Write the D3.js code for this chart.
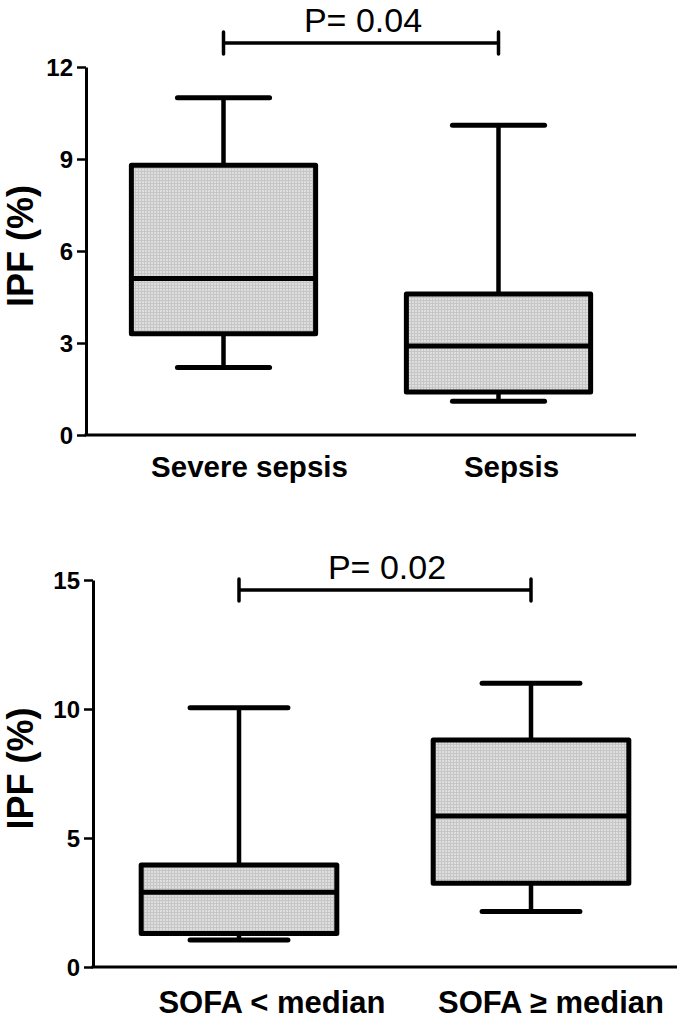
<!DOCTYPE html>
<html>
<head>
<meta charset="utf-8">
<script src="https://cdn.jsdelivr.net/npm/d3@7/dist/d3.min.js"></script>
<style>
  body { margin: 0; background: #fff; }
  svg { display: block; }
  text { font-family: "Liberation Sans", Arial, sans-serif; }
</style>
</head>
<body>
<div id="graph"></div>
<script>
// top panel: severity groups
var topGroups = ["Severe sepsis", "Sepsis"],
    topMin = [2.2, 1.1],
    topQ1 = [3.3, 1.4],
    topMedian = [5.1, 2.9],
    topQ3 = [8.8, 4.6],
    topMax = [11.0, 10.1],
    topTicks = [0, 3, 6, 9, 12],
    topP = "P= 0.04";

// bottom panel: SOFA score groups
var bottomGroups = ["SOFA < median", "SOFA \u2265 median"],
    bottomMin = [1.05, 2.15],
    bottomQ1 = [1.3, 3.25],
    bottomMedian = [2.9, 5.85],
    bottomQ3 = [3.95, 8.8],
    bottomMax = [10.05, 11.0],
    bottomTicks = [0, 5, 10, 15],
    bottomP = "P= 0.02";

var yLabel = "IPF (%)";

var svg = d3.select("#graph").append("svg")
    .attr("width", 685)
    .attr("height", 1025);

// stippled grey fill of the boxes
var pat = svg.append("defs").append("pattern")
    .attr("id", "stipple")
    .attr("patternUnits", "userSpaceOnUse")
    .attr("width", 3)
    .attr("height", 3);
pat.append("rect").attr("width", 3).attr("height", 3).attr("fill", "#dedede");
pat.append("rect").attr("width", 3).attr("height", 1).attr("fill", "#c6c6c6");
pat.append("rect").attr("width", 1).attr("height", 3).attr("fill", "#c6c6c6");

function drawPanel(p) {
    var x = d3.scalePoint()
        .domain(p.groups)
        .range([p.left, p.right])
        .padding(0.5);
    var y = d3.scaleLinear()
        .domain([0, d3.max(p.ticks)])
        .range([p.bottom, p.top]);

    var boxW = x.step() * 0.67,
        capW = boxW * 0.5;

    var g = svg.append("g");

    // y axis
    var yaxis = g.append("g")
        .attr("transform", "translate(" + p.left + ",0)")
        .call(d3.axisLeft(y).tickValues(p.ticks).tickSize(9).tickPadding(4).tickSizeOuter(0))
        .attr("font-size", 24)
        .attr("font-weight", "bold")
        .attr("font-family", "'Liberation Sans', Arial, sans-serif");
    yaxis.select(".domain").attr("stroke", "#000").attr("stroke-width", 3);
    yaxis.selectAll(".tick line").attr("stroke", "#000").attr("stroke-width", 2.5);
    yaxis.selectAll(".tick text")
        .attr("fill", "#000")
        .attr("dy", "0.36em")
        .style("font-size", "24px")
        .style("font-weight", "bold");

    // x axis line
    g.append("line")
        .attr("x1", p.left - 1.5)
        .attr("x2", p.axisEnd)
        .attr("y1", y(0))
        .attr("y2", y(0))
        .attr("stroke", "#000")
        .attr("stroke-width", 3);

    p.groups.forEach(function(d, i) {
        var cx = x(d);
        // whiskers
        [[p.max[i], p.q3[i]], [p.min[i], p.q1[i]]].forEach(function(w) {
            g.append("line")
                .attr("x1", cx).attr("x2", cx)
                .attr("y1", y(w[0])).attr("y2", y(w[1]))
                .attr("stroke", "#000").attr("stroke-width", 4.5);
            g.append("line")
                .attr("x1", cx - capW / 2).attr("x2", cx + capW / 2)
                .attr("y1", y(w[0])).attr("y2", y(w[0]))
                .attr("stroke", "#000").attr("stroke-width", 5)
                .attr("stroke-linecap", "round");
        });
        // box
        g.append("rect")
            .attr("x", cx - boxW / 2)
            .attr("width", boxW)
            .attr("y", y(p.q3[i]))
            .attr("height", y(p.q1[i]) - y(p.q3[i]))
            .attr("fill", "url(#stipple)")
            .attr("stroke", "#000")
            .attr("stroke-width", 5)
            .attr("stroke-linejoin", "round");
        // median
        g.append("line")
            .attr("x1", cx - boxW / 2).attr("x2", cx + boxW / 2)
            .attr("y1", y(p.median[i])).attr("y2", y(p.median[i]))
            .attr("stroke", "#000").attr("stroke-width", 5);
        // category label
        g.append("text")
            .attr("x", cx + p.labelDx[i])
            .attr("y", p.labelY)
            .attr("text-anchor", "middle")
            .style("font-size", p.labelSize + "px")
            .style("font-weight", "bold")
            .text(d);
    });

    // significance bracket
    var x1 = x(p.groups[0]), x2 = x(p.groups[1]);
    g.append("line")
        .attr("x1", x1).attr("x2", x2)
        .attr("y1", p.sigY).attr("y2", p.sigY)
        .attr("stroke", "#000").attr("stroke-width", 3.5);
    [x1, x2].forEach(function(xx) {
        g.append("line")
            .attr("x1", xx).attr("x2", xx)
            .attr("y1", p.sigY - 11).attr("y2", p.sigY + 11)
            .attr("stroke", "#000").attr("stroke-width", 3.5)
            .attr("stroke-linecap", "round");
    });
    g.append("text")
        .attr("x", (x1 + x2) / 2 + 2)
        .attr("y", p.sigY - 11)
        .attr("text-anchor", "middle")
        .style("font-size", "34px")
        .text(p.pText);

    // y label
    g.append("text")
        .attr("transform", "translate(33," + ((p.top + p.bottom) / 2 - 5) + ") rotate(-90)")
        .attr("text-anchor", "middle")
        .style("font-size", "36px")
        .style("font-weight", "bold")
        .text(yLabel);
}

drawPanel({
    groups: topGroups, min: topMin, q1: topQ1, median: topMedian, q3: topQ3, max: topMax,
    ticks: topTicks, pText: topP,
    left: 86, right: 636, axisEnd: 636, top: 67, bottom: 435,
    labelY: 477, labelDx: [26, 13], labelSize: 29.5, sigY: 43
});

drawPanel({
    groups: bottomGroups, min: bottomMin, q1: bottomQ1, median: bottomMedian, q3: bottomQ3, max: bottomMax,
    ticks: bottomTicks, pText: bottomP,
    left: 93, right: 677, axisEnd: 677, top: 580, bottom: 967,
    labelY: 1013, labelDx: [33, 20], labelSize: 31, sigY: 590
});
</script>
</body>
</html>
